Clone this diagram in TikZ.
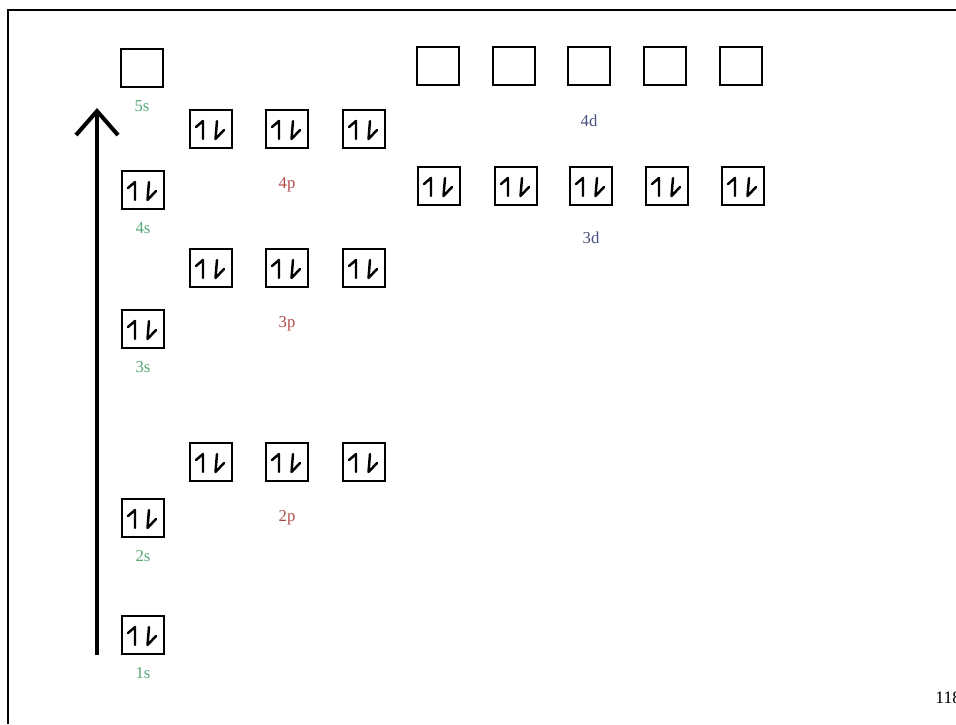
\documentclass[tikz,border=0pt]{standalone}
\usepackage{fontspec}
\setmainfont{Liberation Serif}
\usetikzlibrary{arrows.meta,positioning}
\definecolor{sgreen}{RGB}{86,166,116}
\definecolor{pred}{RGB}{176,74,74}
\definecolor{dblue}{RGB}{72,80,128}

\begin{document}
\begin{tikzpicture}[x=0.02cm, y=-0.02cm,
  orb/.style={draw, line width=0.7pt, minimum width=0.84cm, minimum height=0.76cm, inner sep=0pt},
  pair/.style={path picture={\draw[line width=1.4pt, line cap=round, line join=round, shift={(path picture bounding box.center)}] (-15,-2) -- (-8,-8) -- (-8,10) (6,-8) -- (4.5,10) -- (13,1);}},
  lbl/.style={font=\fontsize{9.5}{11}\selectfont, inner sep=1pt}]
  \useasboundingbox (0,0) rectangle (956,724);
  \draw[line width=1.4pt] (8,724) -- (8,10) -- (956,10);
  % s orbitals
  \node[orb] (s5) at (142,68) {};
  \foreach \n/\y in {4/190,3/329,2/518,1/635} \node[orb, pair] (s\n) at (143,\y) {};
  \foreach \n in {1,...,5} \node[lbl, text=sgreen, below=2.2mm of s\n] (ls\n) {\n s};
  % p orbitals
  \foreach \n/\y in {4/129,3/268,2/462}
    \foreach \i/\x in {1/211,2/287,3/364} \node[orb, pair] (p\n\i) at (\x,\y) {};
  \foreach \n in {2,3,4} \node[lbl, text=pred, below=5.3mm of p\n2] (lp\n) {\n p};
  % d orbitals
  \foreach \i/\x in {1/438,2/514,3/589,4/665,5/741} \node[orb] (d4\i) at (\x,66) {};
  \foreach \i/\x in {1/439,2/516,3/591,4/667,5/743} \node[orb, pair] (d3\i) at (\x,186) {};
  \node[lbl, text=dblue, below=5.5mm of d43] (ld4) {4d};
  \node[lbl, text=dblue, below=4.8mm of d33] (ld3) {3d};
  % energy axis
  \coordinate (base) at (97,655);
  \coordinate (tip) at (97,108);
  \draw[line width=2.3pt, -{Straight Barb[length=4.8mm, width=8.4mm]}] (base) -- (tip);
  \node[font=\fontsize{10}{12}\selectfont, anchor=west, inner sep=0pt] (page) at (935,698) {118};
\end{tikzpicture}
\end{document}
